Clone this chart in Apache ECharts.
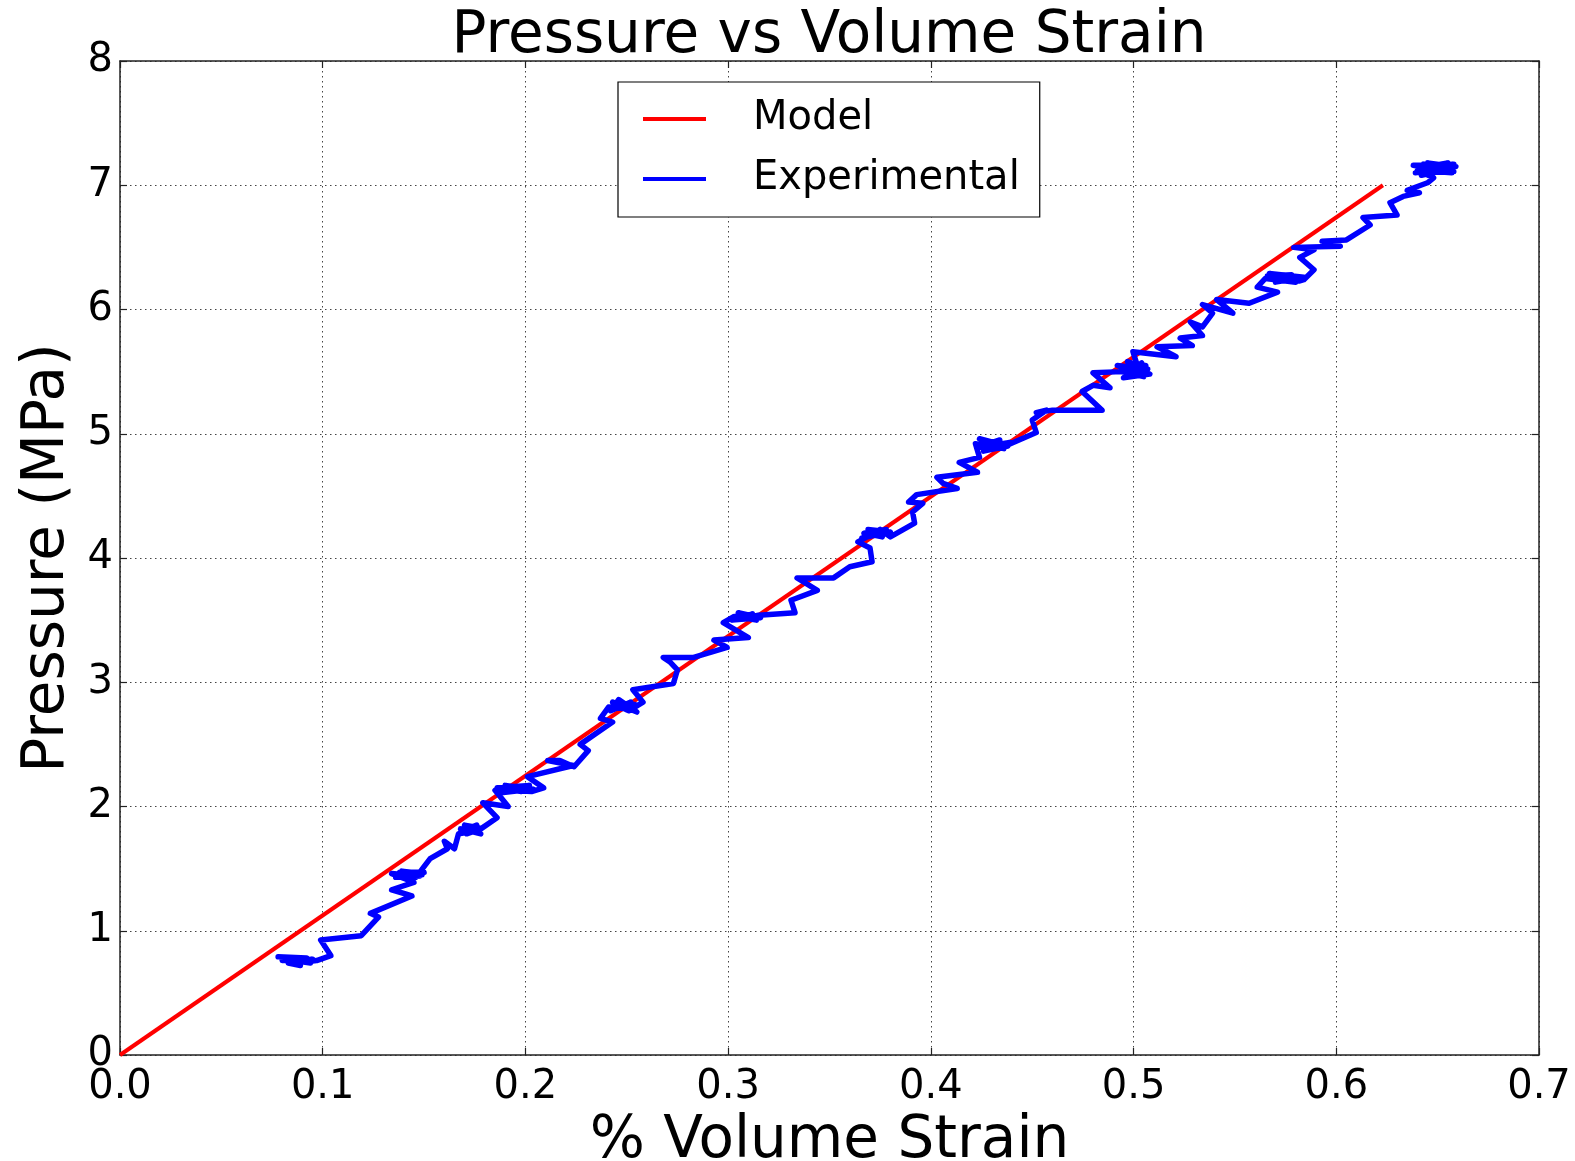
<!DOCTYPE html>
<html>
<head>
<meta charset="utf-8">
<script src="https://cdn.jsdelivr.net/npm/echarts@6/dist/echarts.min.js"></script>
<style>
  html, body { margin: 0; padding: 0; background: #fff; }
  #chart { width: 1575px; height: 1161px; }
</style>
</head>
<body>
<div id="chart"></div>
<script>
// Linear model: pressure grows with volumetric strain
const modelStrain = [0, 0.623];
const modelPressure = [0, 7.0];

// Measured pressure (MPa) against % volume strain, in acquisition order
const experimental = [
  [0.078,0.79],[0.092,0.78],[0.080,0.76],[0.095,0.77],[0.083,0.74],[0.089,0.72],[0.086,0.78],[0.094,0.74],[0.081,0.77],[0.092,0.75],[0.097,0.76],
  [0.104,0.80],[0.099,0.925],[0.119,0.96],[0.1275,1.11],[0.1235,1.14],[0.144,1.28],[0.134,1.33],[0.145,1.39],
  [0.134,1.46],[0.148,1.44],[0.136,1.43],[0.150,1.47],[0.138,1.47],[0.149,1.45],[0.140,1.44],[0.147,1.47],[0.137,1.45],[0.149,1.46],[0.139,1.48],[0.146,1.43],
  [0.1497,1.51],[0.153,1.58],[0.1615,1.66],[0.160,1.72],[0.165,1.66],[0.167,1.78],
  [0.175,1.80],[0.168,1.82],[0.178,1.78],[0.170,1.85],[0.177,1.83],[0.169,1.80],[0.176,1.85],[0.171,1.78],[0.178,1.82],
  [0.186,1.91],[0.179,2.03],[0.1915,2.0],
  [0.185,2.13],[0.200,2.15],[0.188,2.11],[0.204,2.14],[0.190,2.17],[0.198,2.12],[0.186,2.15],[0.202,2.17],[0.192,2.13],[0.203,2.12],[0.209,2.15],
  [0.201,2.24],[0.2236,2.33],[0.211,2.37],[0.217,2.37],[0.224,2.32],[0.231,2.45],[0.227,2.50],[0.243,2.68],[0.237,2.71],
  [0.241,2.80],[0.253,2.78],[0.243,2.84],[0.255,2.76],[0.246,2.86],[0.242,2.77],[0.252,2.84],[0.245,2.79],[0.254,2.82],[0.244,2.82],[0.251,2.77],
  [0.258,2.84],[0.253,2.94],[0.273,2.99],[0.275,3.10],[0.2715,3.16],[0.268,3.20],[0.283,3.20],[0.2995,3.28],[0.293,3.34],[0.31,3.36],[0.2976,3.48],
  [0.303,3.53],[0.314,3.50],[0.305,3.56],[0.316,3.52],[0.302,3.50],[0.312,3.55],[0.306,3.51],[0.315,3.54],
  [0.333,3.56],[0.331,3.66],[0.344,3.74],[0.334,3.84],[0.352,3.84],[0.360,3.93],[0.371,3.97],[0.370,4.08],[0.364,4.13],
  [0.372,4.20],[0.366,4.16],[0.380,4.21],[0.369,4.23],[0.376,4.17],[0.367,4.20],[0.378,4.23],[0.371,4.18],
  [0.375,4.23],[0.380,4.17],[0.392,4.28],[0.391,4.37],[0.396,4.44],[0.389,4.45],[0.393,4.51],[0.413,4.56],[0.406,4.60],[0.403,4.65],[0.423,4.69],[0.414,4.77],[0.424,4.81],
  [0.422,4.92],[0.436,4.88],[0.424,4.96],[0.438,4.90],[0.426,4.86],[0.439,4.93],[0.423,4.89],[0.434,4.95],[0.428,4.87],[0.437,4.92],[0.425,4.94],[0.435,4.89],
  [0.452,5.01],[0.450,5.11],[0.457,5.19],[0.452,5.17],[0.460,5.19],[0.4845,5.19],[0.4746,5.34],[0.480,5.39],[0.4884,5.37],[0.480,5.49],
  [0.494,5.50],[0.505,5.46],[0.492,5.55],[0.507,5.52],[0.497,5.58],[0.508,5.48],[0.495,5.45],[0.504,5.57],[0.499,5.50],[0.506,5.55],[0.496,5.53],[0.503,5.49],
  [0.4997,5.66],[0.521,5.62],[0.5116,5.70],[0.529,5.71],[0.523,5.77],[0.534,5.79],
  [0.528,5.90],[0.534,5.86],[0.539,5.97],[0.534,6.04],[0.549,5.97],[0.541,6.08],[0.557,6.05],[0.571,6.14],[0.561,6.18],
  [0.565,6.25],[0.580,6.22],[0.567,6.29],[0.584,6.26],[0.570,6.22],[0.578,6.28],[0.566,6.27],[0.582,6.23],
  [0.584,6.24],[0.589,6.32],[0.582,6.42],[0.589,6.48],[0.579,6.50],[0.602,6.51],[0.593,6.55],[0.605,6.56],[0.6167,6.68],[0.6132,6.74],[0.630,6.76],[0.6265,6.86],[0.633,6.91],[0.641,6.94],[0.635,6.96],[0.645,7.02],[0.648,7.06],
  [0.640,7.12],[0.657,7.10],[0.638,7.16],[0.658,7.17],[0.642,7.08],[0.656,7.13],[0.645,7.18],[0.659,7.15],[0.639,7.10],[0.655,7.18],[0.641,7.14],[0.658,7.11],[0.643,7.17],[0.657,7.14]
];

const FONT = '"DejaVu Sans", sans-serif';
const gridLine = { show: true, lineStyle: { color: '#444', width: 1, type: [1.5, 3.5] } };
const frameLine = { show: true, onZero: false, lineStyle: { color: '#222', width: 1.5 } };
const innerTick = { show: true, inside: true, length: 7, lineStyle: { color: '#222', width: 1.2 } };

const chart = echarts.init(document.getElementById('chart'), null, { renderer: 'canvas' });
chart.setOption({
  backgroundColor: '#fff',
  animation: false,
  title: {
    text: 'Pressure vs Volume Strain',
    left: 824,
    top: 3,
    textAlign: 'center',
    textStyle: { fontFamily: FONT, fontSize: 58, fontWeight: 'normal', color: '#000' }
  },
  legend: {
    orient: 'vertical',
    left: 618,
    top: 82,
    padding: [15, 20, 16, 25],
    borderColor: '#000',
    borderWidth: 1.2,
    backgroundColor: '#fff',
    itemWidth: 63,
    itemHeight: 4,
    itemGap: 16,
    icon: 'rect',
    textStyle: { fontFamily: FONT, fontSize: 40, color: '#000', lineHeight: 44, padding: [0, 0, 0, 42] },
    data: ['Model', 'Experimental']
  },
  grid: { left: 120, right: 36, top: 61, bottom: 106, containLabel: false, outerBoundsMode: 'none' },
  xAxis: [{
    type: 'value', min: 0, max: 0.7, interval: 0.1,
    name: '% Volume Strain', nameLocation: 'middle', nameGap: 58,
    nameTextStyle: { fontFamily: FONT, fontSize: 58, color: '#000' },
    axisLine: frameLine, axisTick: innerTick, splitLine: gridLine,
    axisLabel: { fontFamily: FONT, fontSize: 40, color: '#000', margin: 13,
                 formatter: v => v.toFixed(1) }
  }, {
    type: 'value', min: 0, max: 0.7, interval: 0.1, position: 'top',
    axisLine: frameLine, axisTick: innerTick, splitLine: { show: false },
    axisLabel: { show: false }
  }],
  yAxis: [{
    type: 'value', min: 0, max: 8, interval: 1,
    name: 'Pressure (MPa)', nameLocation: 'middle', nameGap: 42,
    nameTextStyle: { fontFamily: FONT, fontSize: 58, color: '#000' },
    axisLine: frameLine, axisTick: innerTick, splitLine: gridLine,
    axisLabel: { fontFamily: FONT, fontSize: 40, color: '#000', margin: 7 }
  }, {
    type: 'value', min: 0, max: 8, interval: 1, position: 'right',
    axisLine: frameLine, axisTick: innerTick, splitLine: { show: false },
    axisLabel: { show: false }
  }],
  series: [{
    name: 'Model',
    type: 'line',
    data: modelStrain.map((s, i) => [s, modelPressure[i]]),
    showSymbol: false,
    color: '#ff0000',
    lineStyle: { color: '#ff0000', width: 4 },
    z: 2
  }, {
    name: 'Experimental',
    type: 'line',
    data: experimental,
    showSymbol: false,
    color: '#0000ff',
    lineStyle: { color: '#0000ff', width: 5.5, join: 'round', cap: 'round' },
    z: 3
  }]
});
</script>
</body>
</html>
